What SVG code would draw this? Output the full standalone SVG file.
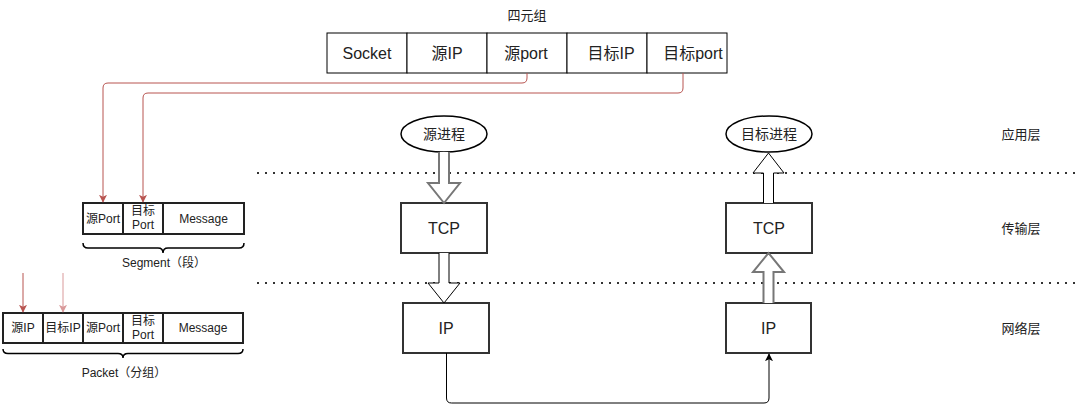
<svg xmlns="http://www.w3.org/2000/svg" width="1081" height="414" viewBox="0 0 1081 414">
<defs>
<style>
text{font-family:"Liberation Sans","Noto Sans CJK SC",sans-serif;fill:#222;text-anchor:middle;dominant-baseline:central}
.cell{fill:#fff;stroke:#000;stroke-width:1}
.pcell{fill:#fff;stroke:#222;stroke-width:2}
.box{fill:#fff;stroke:#333;stroke-width:2}
.dots{stroke:#333;stroke-width:2;stroke-dasharray:2 6;fill:none}
.red{stroke:#b85450;stroke-width:1;fill:none}
.brace{stroke:#000;stroke-width:1.5;fill:none}
.blk{fill:#fff;stroke-linejoin:miter}
.t16{font-size:16px}
.t14{font-size:14px}
.t13{font-size:13px}
.t12{font-size:12px}
</style>
<marker id="ar" viewBox="0 0 10 10" refX="9" refY="5" markerWidth="8" markerHeight="8" markerUnits="userSpaceOnUse" orient="auto"><path d="M0,0 L10,5 L0,10 L2.5,5 Z" fill="#b85450"/></marker>
<marker id="ar2" viewBox="0 0 10 10" refX="9" refY="5" markerWidth="8" markerHeight="8" markerUnits="userSpaceOnUse" orient="auto"><path d="M0,0 L10,5 L0,10 L2.5,5 Z" fill="#d9999a"/></marker>
<marker id="ab" viewBox="0 0 10 10" refX="9" refY="5" markerWidth="8" markerHeight="8" markerUnits="userSpaceOnUse" orient="auto"><path d="M0,0 L10,5 L0,10 L2.5,5 Z" fill="#000"/></marker>
</defs>
<rect width="1081" height="414" fill="#fff"/>

<g id="layers">
<line class="dots" x1="257" y1="173" x2="1075" y2="173"/>
<line class="dots" x1="257" y1="283" x2="1075" y2="283"/>
<text class="t13" x="1021" y="134">应用层</text>
<text class="t13" x="1021" y="228">传输层</text>
<text class="t13" x="1021" y="328">网络层</text>
</g>

<g id="tuple">
<text class="t13" x="527" y="15">四元组</text>
<rect class="cell" x="327" y="33" width="80" height="40"/>
<rect class="cell" x="407" y="33" width="80" height="40"/>
<rect class="cell" x="487" y="33" width="80" height="40"/>
<rect class="cell" x="567" y="33" width="80" height="40"/>
<rect class="cell" x="647" y="33" width="80" height="40"/>
<text class="t16" x="367" y="53">Socket</text>
<text class="t16" x="447" y="53">源IP</text>
<text class="t16" x="526" y="53">源port</text>
<text class="t16" x="611" y="53">目标IP</text>
<text class="t16" x="693" y="53">目标port</text>
</g>

<g id="segment">
<rect class="pcell" x="83" y="203" width="40" height="31"/>
<rect class="pcell" x="123" y="203" width="40" height="31"/>
<rect class="pcell" x="163" y="203" width="81" height="31"/>
<text class="t12" x="103" y="218.5">源Port</text>
<text class="t12" x="143" y="211">目标</text>
<text class="t12" x="143" y="225">Port</text>
<text class="t12" x="203.5" y="218.5">Message</text>
<path class="brace" d="M83,243 Q83,248 88,248 H158 Q163,248 163,253 Q163,248 168,248 H239 Q244,248 244,243"/>
<text class="t12" x="164" y="263">Segment（段）</text>
</g>

<g id="packet">
<rect class="pcell" x="3" y="313" width="40" height="30"/>
<rect class="pcell" x="43" y="313" width="40" height="30"/>
<rect class="pcell" x="83" y="313" width="40" height="30"/>
<rect class="pcell" x="123" y="313" width="40" height="30"/>
<rect class="pcell" x="163" y="313" width="80" height="30"/>
<text class="t12" x="23" y="328">源IP</text>
<text class="t12" x="63" y="328">目标IP</text>
<text class="t12" x="103" y="328">源Port</text>
<text class="t12" x="143" y="321">目标</text>
<text class="t12" x="143" y="335">Port</text>
<text class="t12" x="203" y="328">Message</text>
<path class="brace" d="M3,349 Q3,353.5 8,353.5 H118 Q123,353.5 123,358 Q123,353.5 128,353.5 H238 Q243,353.5 243,349"/>
<text class="t12" x="124" y="373">Packet（分组）</text>
</g>

<g id="src-proc">
<ellipse cx="444" cy="134" rx="43" ry="18" fill="#fff" stroke="#000" stroke-width="1.5"/>
<text class="t14" x="444" y="134">源进程</text>
</g>
<g id="dst-proc">
<ellipse cx="769" cy="134" rx="43" ry="18" fill="#fff" stroke="#000" stroke-width="1.5"/>
<text class="t14" x="769" y="134">目标进程</text>
</g>
<g id="src-tcp">
<rect class="box" x="401" y="203" width="86" height="50"/>
<text class="t16" x="444" y="228">TCP</text>
</g>
<g id="dst-tcp">
<rect class="box" x="726" y="203" width="86" height="50"/>
<text class="t16" x="769" y="228">TCP</text>
</g>
<g id="src-ip">
<rect class="box" x="403" y="303" width="86" height="50" stroke="#000"/>
<text class="t16" x="446" y="328">IP</text>
</g>
<g id="dst-ip">
<rect class="box" x="726" y="303" width="85" height="50"/>
<text class="t16" x="768.5" y="328">IP</text>
</g>

<g id="connectors">
<path class="blk" stroke="#777" stroke-width="2" d="M439,152 V183 H428 L444,203 L460,183 H449 V152"/>
<path class="blk" stroke="#000" stroke-width="1" d="M439,253 V283 H428 L444,303 L460,283 H449 V253"/>
<path class="blk" stroke="#000" stroke-width="1" d="M763.5,203 V173 H753 L768.5,153 L784,173 H773.5 V203"/>
<path class="blk" stroke="#777" stroke-width="2" d="M763.5,303 V272 H753 L768.5,253 L784,272 H773.5 V303"/>
<path class="red" marker-end="url(#ar)" d="M527,73 V78 Q527,83 522,83 H108 Q103,83 103,88 V202"/>
<path class="red" marker-end="url(#ar)" d="M683,73 V88 Q683,93 678,93 H148 Q143,93 143,98 V202"/>
<path class="red" marker-end="url(#ar)" d="M23,273 V312"/>
<path stroke="#d9999a" stroke-width="1" fill="none" marker-end="url(#ar2)" d="M63,273 V312"/>
<path stroke="#000" stroke-width="1" fill="none" marker-end="url(#ab)" d="M446.5,353 V398 Q446.5,403 451.5,403 H764 Q769,403 769,398 V354"/>
</g>
</svg>
